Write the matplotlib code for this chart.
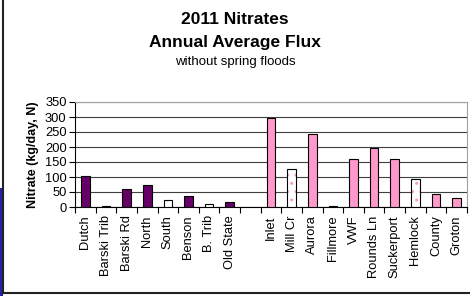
import matplotlib
matplotlib.use("Agg")
import matplotlib.pyplot as plt
from matplotlib.patches import Rectangle
from matplotlib.lines import Line2D
import numpy as np

plt.rcParams['font.family'] = ['Liberation Sans', 'DejaVu Sans']

categories = ["Dutch", "Barski Trib", "Barski Rd", "North", "South", "Benson",
              "B. Trib", "Old State", "", "Inlet", "Mill Cr", "Aurora", "Fillmore",
              "VWF", "Rounds Ln", "Suckerport", "Hemlock", "County", "Groton"]
values = [102, 3, 59, 73, 22, 38, 10, 18, 0,
          298, 126, 242, 3, 161, 197, 161, 95, 45, 30]
# style per bar: 'p' purple solid, 'k' pink solid, 'd' white dotted
styles = ['p', 'p', 'p', 'p', 'd', 'p', 'd', 'p', 'n',
          'k', 'd', 'k', 'p', 'k', 'k', 'k', 'd', 'k', 'k']
yticks = [0, 50, 100, 150, 200, 250, 300, 350]

PURPLE = "#660066"
PINK = "#FF99CC"

fig = plt.figure(figsize=(4.70, 2.96), dpi=100)
ax = fig.add_axes([75/470, 1-207/296, (467-75)/470, (207-102)/296])

x = np.arange(len(categories))
w = 0.42
for xi, v, s in zip(x, values, styles):
    if s == 'n':
        continue
    if s == 'p':
        ax.bar(xi, v, w, color=PURPLE, edgecolor='black', linewidth=0.8, zorder=3)
    elif s == 'k':
        ax.bar(xi, v, w, color=PINK, edgecolor='black', linewidth=0.8, zorder=3)
    else:
        ax.bar(xi, v, w, color='white', edgecolor=PINK, hatch='..', linewidth=0, zorder=3)
        ax.bar(xi, v, w, color='none', edgecolor='black', linewidth=0.8, zorder=4)

ax.set_xlim(-0.5, len(categories) - 0.5)
ax.set_ylim(0, 350)
ax.set_yticks(yticks)
ax.set_yticklabels([str(t) for t in yticks], fontsize=9.3)
ax.yaxis.grid(True, color='#404040', linewidth=0.8, zorder=0)
ax.set_axisbelow(True)

ax.set_xticks(x)
ax.set_xticklabels(categories, rotation=90, fontsize=9.3)
ax.tick_params(axis='x', length=0, pad=6)
ax.set_xticks(np.arange(-0.5, len(categories)), minor=True)
ax.tick_params(axis='x', which='minor', length=4, width=0.8, direction='out')
ax.tick_params(axis='y', length=4, width=0.8, direction='out', pad=2)

for side in ['top', 'right']:
    ax.spines[side].set_color('#a0a0a0')
    ax.spines[side].set_linewidth(0.8)
for side in ['left', 'bottom']:
    ax.spines[side].set_color('black')
    ax.spines[side].set_linewidth(0.8)

ax.set_ylabel("Nitrate (kg/day, N)", fontsize=9, fontweight='bold', labelpad=4)

fig.text(0.5, 1-20/296, "2011 Nitrates", ha='center', va='center', fontsize=12.5, fontweight='bold')
fig.text(0.5, 1-43/296, "Annual Average Flux", ha='center', va='center', fontsize=12.5, fontweight='bold')
fig.text(0.5, 1-62/296, "without spring floods", ha='center', va='center', fontsize=9.5)

# slide background strip and chart frame
fig.patches.append(Rectangle((0, 0), 3/470, 1-188/296, transform=fig.transFigure,
                             facecolor='#2222aa', edgecolor='none', zorder=0))
fig.lines.append(Line2D([3/470, 3/470], [1-293/296, 1], transform=fig.transFigure,
                        color='#222222', linewidth=1.5))
fig.lines.append(Line2D([3/470, 1], [1-293/296, 1-293/296], transform=fig.transFigure,
                        color='#222222', linewidth=1.5))

fig.savefig("out.png", dpi=100)
